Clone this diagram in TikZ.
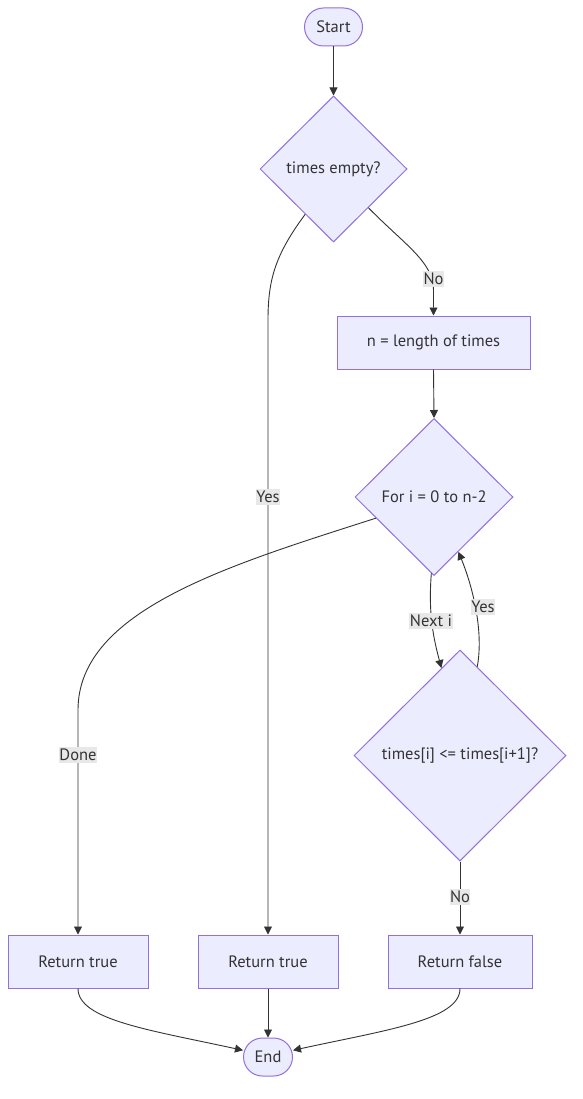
\documentclass[tikz,border=0pt]{standalone}
\usepackage{fontspec}
\setmainfont{PT Sans}
\usetikzlibrary{shapes.geometric,arrows.meta}
\definecolor{nodefill}{HTML}{ECECFF}
\definecolor{nodeline}{HTML}{9370DB}
\definecolor{txt}{HTML}{333333}
\definecolor{lblbg}{HTML}{E8E8E8}
\begin{document}
\begin{tikzpicture}[x=1pt,y=-1pt,
  base/.style={draw=nodeline, fill=nodefill, text=txt, line width=1pt, font=\fontsize{16.5}{19}\selectfont, inner sep=0pt},
  term/.style={base, rectangle, rounded corners=19pt, minimum height=38pt},
  proc/.style={base, rectangle, minimum height=53pt},
  dec/.style={base, diamond},
  flow/.style={draw=txt, line width=0.9pt, -{Triangle[length=8pt,width=8pt]}},
  lbl/.style={fill=lblbg, text=txt, font=\fontsize{16.5}{19}\selectfont, inner xsep=0.5pt, inner ysep=2.5pt}
]
\useasboundingbox[fill=white] (0,0) rectangle (582,1099);

\node[term, minimum width=58pt] (start) at (333.5,27) {Start};
\node[dec, minimum width=147pt, minimum height=146pt] (q1) at (333.5,169) {times empty?};
\node[proc, minimum width=193pt] (n) at (433.5,342.5) {n = length of times};
\node[dec, minimum width=158pt, minimum height=157pt] (loop) at (434,497) {For i = 0 to n-2};
\node[dec, minimum width=212pt, minimum height=211pt] (cmp) at (460,755.5) {times[i] <= times[i+1]?};
\node[proc, minimum width=140pt] (rt1) at (78,961.5) {Return true};
\node[proc, minimum width=140pt] (rt2) at (268,961.5) {Return true};
\node[proc, minimum width=144pt] (rf) at (460,961.5) {Return false};
\node[term, minimum width=49pt] (end) at (268,1057) {End};

\draw[flow] (start.south) -- (q1.north);
\draw[flow] (q1.238) .. controls (275,255) and (268,280) .. (268,320) -- (rt2.north);
\draw[flow] (q1.312) .. controls (405,245) and (433.5,262) .. (433.5,290) -- (n.north);
\draw[flow] (n.south) -- (loop.north);
\draw[flow] (loop.200) .. controls (230,565) and (78,610) .. (78,710) -- (rt1.north);
\draw[flow] (loop.268) .. controls (428,615) and (434,640) .. (cmp.102);
\draw[flow] (cmp.79) .. controls (484,630) and (472,585) .. (loop.294);
\draw[flow] (cmp.south) -- (rf.north);
\draw[flow] (rt1.south) .. controls (78,1020) and (150,1030) .. (end.165);
\draw[flow] (rt2.south) -- (end.north);
\draw[flow] (rf.south) .. controls (460,1020) and (386,1030) .. (end.15);

\node[lbl] (l1) at (268,497) {Yes};
\node[lbl] (l2) at (433.5,279) {No};
\node[lbl] (l3) at (78,755) {Done};
\node[lbl] (l4) at (431,621) {Next i};
\node[lbl] (l5) at (483,607) {Yes};
\node[lbl] (l6) at (460,897) {No};
\end{tikzpicture}
\end{document}
